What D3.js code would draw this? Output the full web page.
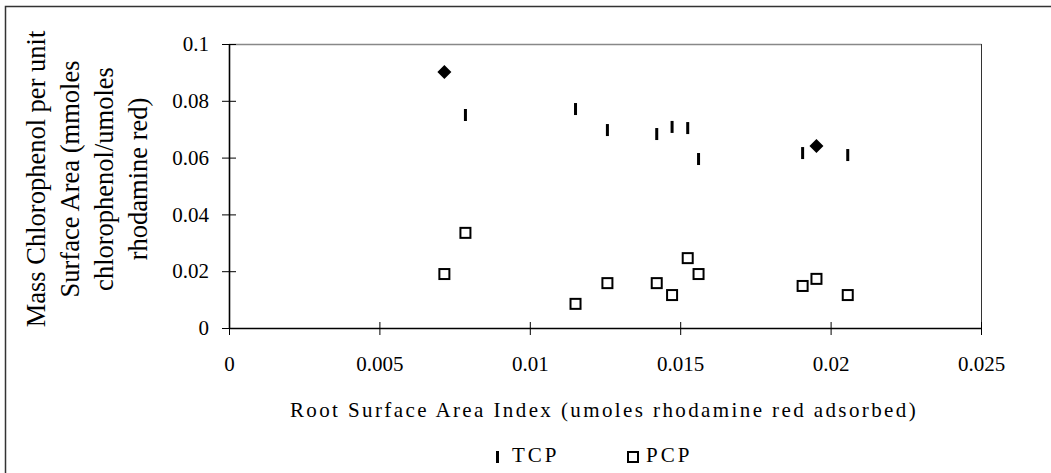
<!DOCTYPE html>
<html><head><meta charset="utf-8">
<script src="https://cdn.jsdelivr.net/npm/d3@7"></script>
<style>body{margin:0;background:#fff}svg{display:block}text{font-family:"Liberation Serif","Times New Roman",serif;fill:#000}</style>
</head><body><svg id="c" width="1051" height="473"></svg>
<script>
const xValues = [0.00716, 0.00786, 0.01152, 0.01258, 0.01422, 0.01473, 0.01525, 0.01561, 0.01907, 0.01953, 0.02057];
const tcp = [0.0901, 0.0750, 0.0771, 0.0697, 0.0683, 0.0708, 0.0704, 0.0595, 0.0616, 0.0641, 0.0609];
const tcpHighlighted = [true, false, false, false, false, false, false, false, false, true, false];
const pcp = [0.0190, 0.0335, 0.0085, 0.0158, 0.0158, 0.0116, 0.0246, 0.0190, 0.0148, 0.0173, 0.0116];
const xTicks = [0, 0.005, 0.01, 0.015, 0.02, 0.025];
const yTicks = [0, 0.02, 0.04, 0.06, 0.08, 0.1];
const seriesNames = ["TCP", "PCP"];
const xTitle = "Root Surface Area Index (umoles rhodamine red adsorbed)";
const yTitleLines = ["Mass Chlorophenol per unit", "Surface Area (mmoles", "chlorophenol/umoles", "rhodamine red)"];

const svg = d3.select("#c");
const L = 229, R = 981, T = 44, B = 328;
const x = d3.scaleLinear().domain([0, 0.025]).range([L, R]);
const y = d3.scaleLinear().domain([0, 0.1]).range([B, T]);

// outer border (only left and top visible)
svg.append("path").attr("d", `M5.5,473 V6.5 H1051`).attr("fill", "none").attr("stroke", "#333").attr("stroke-width", 1.5);

// plot frame top/right
svg.append("line").attr("x1", L).attr("x2", R + 0.5).attr("y1", T + 0.5).attr("y2", T + 0.5).attr("stroke", "#888").attr("stroke-width", 1.5);
svg.append("line").attr("x1", R + 0.5).attr("x2", R + 0.5).attr("y1", T).attr("y2", B).attr("stroke", "#333").attr("stroke-width", 1);

// axes
const xa = svg.append("g").attr("transform", `translate(0,${B})`)
  .call(d3.axisBottom(x).tickValues(xTicks).tickFormat(d => String(d)).tickSizeInner(7).tickSizeOuter(0).tickPadding(21));
xa.select(".domain").attr("stroke", "#000").attr("stroke-width", 1.6);
xa.selectAll(".tick line").attr("y1", -6).attr("stroke", "#000");
xa.selectAll("text").attr("font-size", 21).attr("font-family", "Liberation Serif");

const ya = svg.append("g").attr("transform", `translate(${L},0)`)
  .call(d3.axisLeft(y).tickValues(yTicks).tickFormat(d => String(d)).tickSizeInner(7).tickSizeOuter(0).tickPadding(13));
ya.select(".domain").attr("stroke", "#000").attr("stroke-width", 1.6);
ya.selectAll(".tick line").attr("x1", 7).attr("x2", -7).attr("stroke", "#000");
ya.selectAll("text").attr("font-size", 21).attr("font-family", "Liberation Serif");

// PCP squares
svg.append("g").selectAll("rect").data(pcp).join("rect")
  .attr("x", (d, i) => x(xValues[i]) - 5).attr("y", d => y(d) - 5)
  .attr("width", 10).attr("height", 10)
  .attr("fill", "#fff").attr("stroke", "#000").attr("stroke-width", 2);

// TCP bars / diamonds
const tg = svg.append("g");
tcp.forEach((d, i) => {
  const cx = x(xValues[i]), cy = y(d);
  if (tcpHighlighted[i]) {
    tg.append("path").attr("d", `M${cx},${cy - 7}L${cx + 7},${cy}L${cx},${cy + 7}L${cx - 7},${cy}Z`).attr("fill", "#000");
  } else {
    tg.append("rect").attr("x", cx - 1.5).attr("y", cy - 6).attr("width", 3).attr("height", 12).attr("fill", "#000");
  }
});

// x title
svg.append("text").attr("x", 604).attr("y", 417).attr("text-anchor", "middle")
  .attr("font-size", 21).attr("letter-spacing", 2.4).text(xTitle);

// y title
const yt = svg.append("text").attr("transform", "translate(0,179) rotate(-90)").attr("text-anchor", "middle").attr("font-size", 26.5);
yTitleLines.forEach((t, i) => yt.append("tspan").attr("x", 0).attr("y", 45 + i * 34).text(t));

// legend
const lg = svg.append("g");
lg.append("rect").attr("x", 496).attr("y", 451).attr("width", 3).attr("height", 12).attr("fill", "#000");
lg.append("text").attr("x", 512).attr("y", 462).attr("font-size", 21).attr("letter-spacing", 3).text(seriesNames[0]);
lg.append("rect").attr("x", 628).attr("y", 452).attr("width", 10).attr("height", 10).attr("fill", "#fff").attr("stroke", "#000").attr("stroke-width", 2);
lg.append("text").attr("x", 646).attr("y", 462).attr("font-size", 21).attr("letter-spacing", 3).text(seriesNames[1]);
</script></body></html>
